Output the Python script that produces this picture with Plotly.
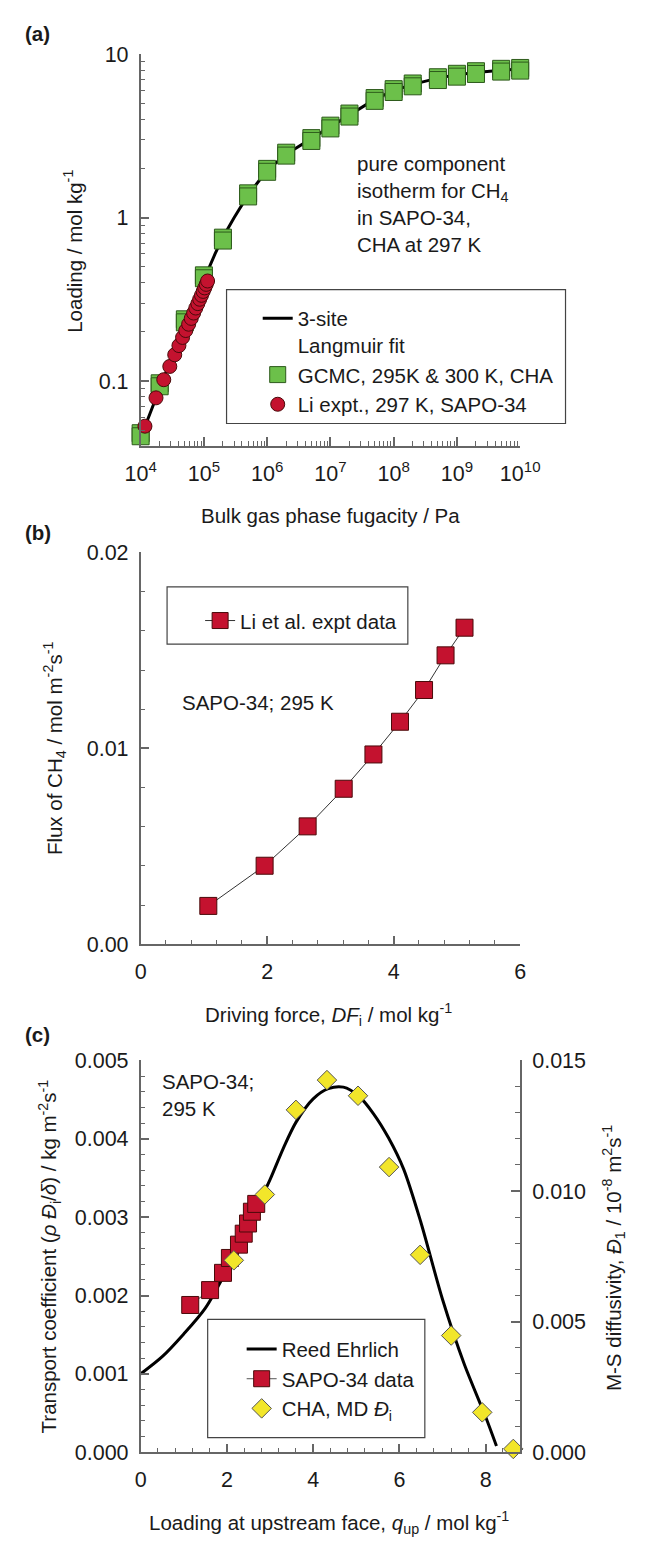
import plotly.graph_objects as go
import math

W, H = 645, 1549

# ---------------- Panel (a) data ----------------
fug_gcmc = [1e4, 2e4, 5e4, 1e5, 2e5, 5e5, 1e6, 2e6, 5e6, 1e7, 2e7, 5e7,
            1e8, 2e8, 5e8, 1e9, 2e9, 5e9, 1e10]
load_gcmc_295 = [0.048, 0.097, 0.239, 0.444, 0.755, 1.41, 1.99, 2.50, 3.07, 3.66,
                 4.34, 5.40, 6.12, 6.63, 7.24, 7.60, 7.88, 8.15, 8.25]
load_gcmc_300 = [0.046, 0.093, 0.229, 0.426, 0.725, 1.35, 1.91, 2.40, 2.95, 3.52,
                 4.16, 5.19, 5.88, 6.37, 6.96, 7.30, 7.58, 7.84, 7.95]
fug_li = [11700, 17500, 23200, 28900, 34600, 40300, 46000, 51700, 57400, 63100,
          68800, 74500, 80200, 85900, 91600, 97300, 103000, 108700, 114400]
load_li = [0.053, 0.079, 0.102, 0.123, 0.145, 0.165, 0.185, 0.204, 0.223, 0.242,
           0.261, 0.280, 0.298, 0.317, 0.335, 0.354, 0.372, 0.391, 0.410]
fug_fit = [1e4, 1.5e4, 2e4, 3e4, 5e4, 7e4, 1e5, 1.5e5, 2e5, 3e5, 5e5, 1e6, 2e6,
           5e6, 1e7, 2e7, 5e7, 1e8, 2e8, 5e8, 1e9, 2e9, 5e9, 1e10]
load_fit = [0.045, 0.068, 0.092, 0.135, 0.225, 0.305, 0.42, 0.60, 0.76, 1.0, 1.38,
            1.95, 2.45, 3.05, 3.6, 4.25, 5.3, 6.0, 6.55, 7.15, 7.5, 7.75, 8.0, 8.1]
xa_tickvals = [1e4, 1e5, 1e6, 1e7, 1e8, 1e9, 1e10]
xa_ticktext = ["10<sup>4</sup>", "10<sup>5</sup>", "10<sup>6</sup>", "10<sup>7</sup>",
               "10<sup>8</sup>", "10<sup>9</sup>", "10<sup>10</sup>"]
ya_tickvals = [0.1, 1, 10]
ya_ticktext = ["0.1", "1", "10"]

# ---------------- Panel (b) data ----------------
df_li = [1.07, 1.96, 2.64, 3.21, 3.68, 4.10, 4.48, 4.82, 5.12]
flux_li = [0.00196, 0.00401, 0.00602, 0.00794, 0.00969, 0.01136, 0.01298, 0.01475, 0.01616]

# ---------------- Panel (c) data ----------------
q_sapo = [1.15, 1.61, 1.91, 2.07, 2.28, 2.39, 2.49, 2.58, 2.68]
k_sapo = [0.00188, 0.00207, 0.00229, 0.00248, 0.00265, 0.00279, 0.00292, 0.00307, 0.00317]
q_md = [2.16, 2.88, 3.60, 4.32, 5.04, 5.76, 6.48, 7.20, 7.92, 8.64]
d_md = [0.00735, 0.00987, 0.01311, 0.01425, 0.01365, 0.01092, 0.00756, 0.00447, 0.00153, 0.00013]
q_fit = [0, 0.5, 1.0, 1.5, 2.0, 2.5, 3.0, 3.3, 3.6, 4.0, 4.35, 4.7, 5.05, 5.4,
         5.75, 6.1, 6.5, 7.0, 7.5, 8.0, 8.25]
k_fit = [0.00100, 0.00122, 0.00151, 0.00184, 0.00233, 0.00290, 0.00348, 0.00387,
         0.00421, 0.00451, 0.00464, 0.00466, 0.00455, 0.00432, 0.00401, 0.00361,
         0.00293, 0.00195, 0.00113, 0.00045, 0.00008]

# ---------------- styling ----------------
FONT = "Arial, Liberation Sans, sans-serif"
FS = 20.5
FT = 21.5
AX = "#666666"
GREEN, GREEN_E = "#6CC04A", "#2D5A1B"
RED, RED_E = "#C4122F", "#4A0A0A"
YEL, YEL_E = "#F2E62A", "#555555"


def fx(px):
    return px / W


def fy(py):
    return 1 - py / H


fig = go.Figure()

# (a)
fig.add_trace(go.Scatter(x=fug_fit, y=load_fit, mode="lines", name="3-site<br>Langmuir fit",
                         line=dict(color="black", width=3), xaxis="x", yaxis="y", legend="legend"))
fig.add_trace(go.Scatter(x=fug_gcmc, y=load_gcmc_295, mode="markers", showlegend=False, cliponaxis=False,
                         marker=dict(symbol="square", size=17, color=GREEN, line=dict(color=GREEN_E, width=1)),
                         xaxis="x", yaxis="y", legend="legend"))
fig.add_trace(go.Scatter(x=fug_gcmc, y=load_gcmc_300, mode="markers", name="GCMC, 295K &amp; 300 K, CHA",
                         cliponaxis=False,
                         marker=dict(symbol="square", size=17, color=GREEN, line=dict(color=GREEN_E, width=1)),
                         xaxis="x", yaxis="y", legend="legend"))
fig.add_trace(go.Scatter(x=fug_li, y=load_li, mode="markers", name="Li expt., 297 K, SAPO-34",
                         cliponaxis=False,
                         marker=dict(symbol="circle", size=14, color=RED, line=dict(color=RED_E, width=1)),
                         xaxis="x", yaxis="y", legend="legend"))

# (b)
fig.add_trace(go.Scatter(x=df_li, y=flux_li, mode="lines+markers", name="Li et al. expt data",
                         cliponaxis=False, line=dict(color="#333333", width=1),
                         marker=dict(symbol="square", size=17, color=RED, line=dict(color=RED_E, width=1)),
                         xaxis="x2", yaxis="y2", legend="legend2"))

# (c)
fig.add_trace(go.Scatter(x=q_fit, y=k_fit, mode="lines", name="Reed Ehrlich",
                         line=dict(color="black", width=3, shape="spline", smoothing=0.8),
                         xaxis="x3", yaxis="y3", legend="legend3"))
fig.add_trace(go.Scatter(x=q_sapo, y=k_sapo, mode="lines+markers", name="SAPO-34 data",
                         cliponaxis=False, line=dict(color="#555555", width=1),
                         marker=dict(symbol="square", size=17, color=RED, line=dict(color=RED_E, width=1)),
                         xaxis="x3", yaxis="y3", legend="legend3"))
fig.add_trace(go.Scatter(x=q_md, y=d_md, mode="markers", name="CHA, MD <i>Đ</i><sub>i</sub>",
                         cliponaxis=False,
                         marker=dict(symbol="diamond", size=15, color=YEL, line=dict(color=YEL_E, width=1)),
                         xaxis="x3", yaxis="y4", legend="legend3"))

common = dict(showline=True, linecolor=AX, linewidth=1.5, ticks="inside", tickcolor=AX,
              tickwidth=1.5, ticklen=9, showgrid=False, zeroline=False,
              tickfont=dict(family=FONT, size=FT, color="#1a1a1a"))
cx = dict(common, ticklabelstandoff=7)
cy = dict(common, ticklabelstandoff=6)
minor_common = dict(ticks="inside", ticklen=5, tickcolor=AX, tickwidth=1.2, showgrid=False)

xa_minor = [k * 10 ** e for e in range(4, 10) for k in range(2, 10)]
ya_minor = [k * 10 ** e for e in (-2, -1, 0) for k in range(2, 10)]

fig.update_layout(
    width=W, height=H, margin=dict(l=0, r=0, t=0, b=0),
    paper_bgcolor="white", plot_bgcolor="white",
    font=dict(family=FONT, size=FS, color="#1a1a1a"),
    xaxis=dict(type="log", domain=[fx(132), fx(534)], range=[4, 10], anchor="y",
               tickmode="array", tickvals=xa_tickvals, ticktext=xa_ticktext,
               minor=dict(tickmode="array", tickvals=xa_minor, **minor_common), **cx),
    yaxis=dict(type="log", domain=[fy(442), fy(44)], range=[math.log10(0.04), 1], anchor="x",
               tickmode="array", tickvals=ya_tickvals, ticktext=ya_ticktext,
               minor=dict(tickmode="array", tickvals=ya_minor, **minor_common), **cy),
    xaxis2=dict(domain=[fx(132), fx(534)], range=[0, 6], anchor="y2", dtick=2, tick0=0,
                minor=dict(dtick=0.4, tick0=0, **minor_common), **cx),
    yaxis2=dict(domain=[fy(948), fy(550)], range=[0, 0.02], anchor="x2", dtick=0.01, tick0=0,
                tickformat=".2f", minor=dict(dtick=0.002, tick0=0, **minor_common), **cy),
    xaxis3=dict(domain=[fx(132), fx(534)], range=[0, 8.8], anchor="y3", dtick=2, tick0=0,
                minor=dict(dtick=0.4, tick0=0, **minor_common), **cx),
    yaxis3=dict(domain=[fy(1464), fy(1066)], range=[0, 0.005], anchor="x3", dtick=0.001, tick0=0,
                tickformat=".3f", minor=dict(dtick=0.0002, tick0=0, **minor_common), **cy),
    yaxis4=dict(overlaying="y3", side="right", anchor="x3", range=[0, 0.015], dtick=0.005, tick0=0,
                tickformat=".3f", minor=dict(dtick=0.001, tick0=0, **minor_common), **cy),
    legend=dict(x=fx(256), y=fy(292), xanchor="left", yanchor="top", bgcolor="rgba(0,0,0,0)",
                borderwidth=0, font=dict(family=FONT, size=FS), valign="top", tracegroupgap=0),
    legend2=dict(x=fx(195), y=fy(599), xanchor="left", yanchor="top", bgcolor="rgba(0,0,0,0)",
                 borderwidth=0, font=dict(family=FONT, size=FS)),
    legend3=dict(x=fx(239), y=fy(1339), xanchor="left", yanchor="top", bgcolor="rgba(0,0,0,0)",
                 borderwidth=0, font=dict(family=FONT, size=FS), tracegroupgap=0),
)

# legend frames
for (x0, y0, x1, y1) in [(223, 283, 582, 419), (160, 585, 415, 643), (203, 1329, 433, 1449)]:
    fig.add_shape(type="rect", xref="paper", yref="paper", x0=fx(x0), x1=fx(x1), y0=fy(y1), y1=fy(y0),
                  line=dict(color="#444444", width=1.2), fillcolor="rgba(0,0,0,0)", layer="above")

ann = []


def text(px, py, s, xanchor="center", angle=0, size=FS, bold=False):
    ann.append(dict(x=fx(px), y=fy(py), xref="paper", yref="paper", text=("<b>%s</b>" % s) if bold else s,
                    showarrow=False, xanchor=xanchor, yanchor="middle", textangle=angle, align="left",
                    font=dict(family=FONT, size=size, color="#1a1a1a")))


text(7, 23, "(a)", xanchor="left", bold=True)
text(7, 530, "(b)", xanchor="left", bold=True)
text(7, 1040, "(c)", xanchor="left", bold=True)
text(333, 512, "Bulk gas phase fugacity / Pa")
text(61, 244, "Loading / mol kg<sup>-1</sup>", angle=-90)
text(359, 170, "pure component<br>isotherm for CH<sub>4</sub>", xanchor="left")
text(359, 223, "in SAPO-34,<br>CHA at 297 K", xanchor="left")
text(331, 1019, "Driving force, <i>DF</i><sub>i</sub> / mol kg<sup>-1</sup>")
text(41, 749, "Flux of CH<sub>4</sub> / mol m<sup>-2</sup>s<sup>-1</sup>", angle=-90)
text(174, 702, "SAPO-34; 295 K", xanchor="left")
text(331, 1535, "Loading at upstream face, <i>q</i><sub>up</sub> / mol kg<sup>-1</sup>")
text(35, 1265, "Transport coefficient (<i>ρ Đ</i><sub>i</sub>/<i>δ</i>) / kg m<sup>-2</sup>s<sup>-1</sup>", angle=-90)
text(633, 1267, "M-S diffusivity, <i>Đ</i><sub>1</sub> / 10<sup>-8</sup> m<sup>2</sup>s<sup>-1</sup>", angle=-90)
text(152, 1101, "SAPO-34;<br>295 K", xanchor="left")

fig.update_layout(annotations=ann)
fig.write_html("out.html")
